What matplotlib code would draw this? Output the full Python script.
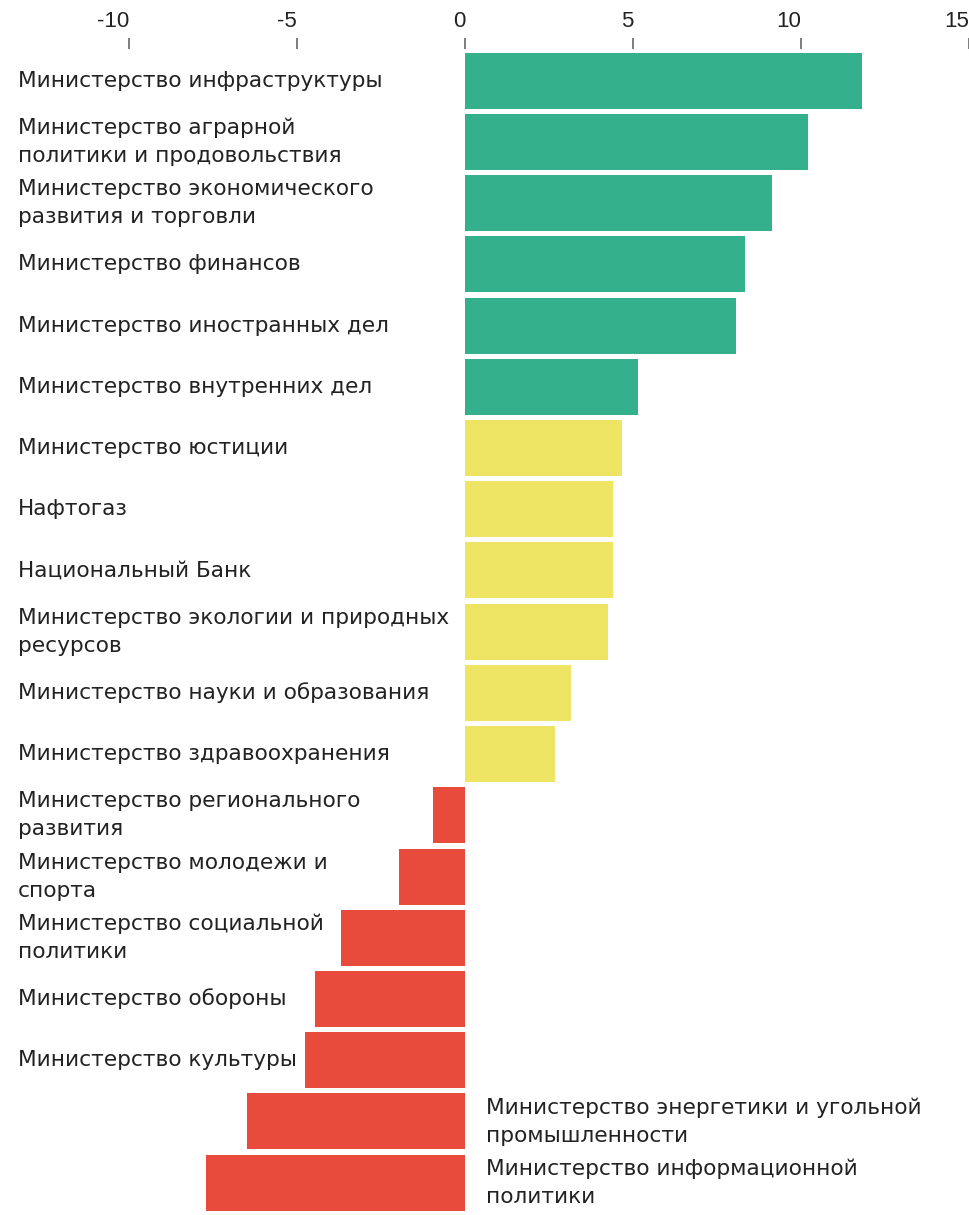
import matplotlib
matplotlib.use("Agg")
import matplotlib.pyplot as plt
import matplotlib.transforms as mtransforms

labels = [
    "Министерство инфраструктуры",
    "Министерство аграрной\nполитики и продовольствия",
    "Министерство экономического\nразвития и торговли",
    "Министерство финансов",
    "Министерство иностранных дел",
    "Министерство внутренних дел",
    "Министерство юстиции",
    "Нафтогаз",
    "Национальный Банк",
    "Министерство экологии и природных\nресурсов",
    "Министерство науки и образования",
    "Министерство здравоохранения",
    "Министерство регионального\nразвития",
    "Министерство молодежи и\nспорта",
    "Министерство социальной\nполитики",
    "Министерство обороны",
    "Министерство культуры",
    "Министерство энергетики и угольной\nпромышленности",
    "Министерство информационной\nполитики",
]
values = [11.82, 10.21, 9.14, 8.33, 8.07, 5.15, 4.67, 4.4, 4.4, 4.26, 3.15, 2.68,
          -0.95, -1.97, -3.7, -4.45, -4.75, -6.5, -7.7]
groups = ["high"] * 6 + ["mid"] * 6 + ["low"] * 7
tick_values = [-10, -5, 0, 5, 10, 15]

palette = {"high": "#34b08c", "mid": "#eee564", "low": "#e84b3c"}

plt.rcParams['font.family'] = ['DejaVu Sans']
fig = plt.figure(figsize=(9.7, 12.15), dpi=100)
ax = fig.add_axes([0, 0, 1, 1 - 49 / 1215])

ys = list(range(len(values)))
ax.barh(ys, values, height=0.915, color=[palette[g] for g in groups], edgecolor="none")

ax.set_xlim(-13.84, 15.03)
ax.set_ylim(18.53, -0.52)

ax.xaxis.tick_top()
ax.set_xticks(tick_values)
ax.set_xticklabels([str(t) for t in tick_values], fontsize=16, color="#222222",
                   family=['Liberation Sans', 'DejaVu Sans'], ha="right")
ax.tick_params(axis="x", direction="out", length=8, width=1.2, color="#666666", pad=4)
ax.set_yticks([])
for s in ax.spines.values():
    s.set_visible(False)

trans = mtransforms.blended_transform_factory(ax.transAxes, ax.transData)
for y, lab, v in zip(ys, labels, values):
    if v < -6:
        ax.annotate(lab, xy=(0, y), xytext=(15, 0), textcoords="offset points",
                    ha="left", va="center", fontsize=15.6, color="#222222",
                    linespacing=1.5)
    else:
        ax.text(18 / 970, y, lab, transform=trans, ha="left", va="center",
                fontsize=15.6, color="#222222", linespacing=1.5)

fig.savefig("out.png", dpi=100, facecolor="white")
